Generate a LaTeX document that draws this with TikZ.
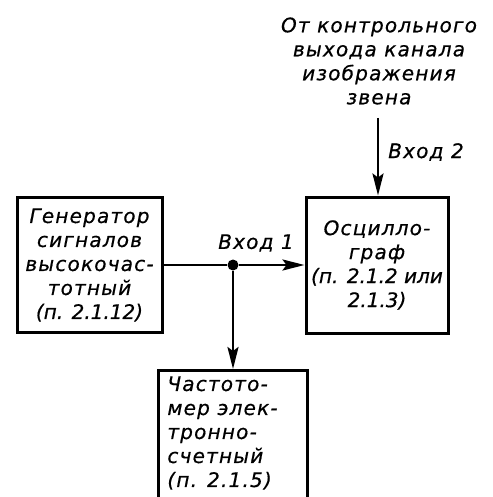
\documentclass[tikz,border=0pt]{standalone}
\usepackage{fontspec}
\newfontfamily\gost[LetterSpace=6, FakeBold=0.6]{DejaVu Sans}
\usetikzlibrary{arrows.meta}

\begin{document}
\begin{tikzpicture}[x=1pt, y=-1pt, thick,
    font=\gost\itshape\fontsize{20}{24}\selectfont,
    blk/.style={draw, line width=3pt, inner sep=0pt},
    txt/.style={inner sep=0pt, align=center},
    wire/.style={line width=2.6pt},
    arr/.style={wire, -{Stealth[length=22pt, width=11pt, inset=4pt]}}]
  \useasboundingbox (0,0) rectangle (492,497);

  % source of the second input
  \node[txt] (src) at (379,61)
    {От контрольного\\выхода канала\\изображения\\звена};
  \coordinate (in2) at (378,118);

  % generator
  \node[blk, txt, minimum width=145, minimum height=135] (gen) at (89.5,265)
    {Генератор\\сигналов\\высокочас-\\тотный\\{\addfontfeature{LetterSpace=0}(п. 2.1.12)}};

  % oscilloscope
  \node[blk, txt, minimum width=142, minimum height=136] (osc) at (377,265)
    {Осцилло-\\граф\\{\addfontfeature{LetterSpace=0}(п. 2.1.2 или}\\{\addfontfeature{LetterSpace=0}2.1.3)}};

  % frequency meter, cut off at the bottom
  \node[blk, minimum width=149, minimum height=150, anchor=north] (freq) at (233,369) {};
  \node[txt, align=left, anchor=north west] (freqtxt) at ([xshift=10, yshift=-7]freq.north west)
    {Частото-\\мер элек-\\тронно-\\счетный\\(п. 2.1.5)};

  % branch point
  \node[circle, fill, inner sep=0pt, minimum size=11] (tap) at (233,265) {};

  \draw[wire] (gen) -- (tap);
  \draw[arr] (tap) -- (osc);
  \draw[arr] (tap) -- (freq);
  \draw[arr] (in2) -- (in2 |- osc.north);

  \node[txt] (in1lbl) at (256,243) {Вход 1};
  \node[txt] (in2lbl) at (426,152) {Вход 2};
\end{tikzpicture}
\end{document}
